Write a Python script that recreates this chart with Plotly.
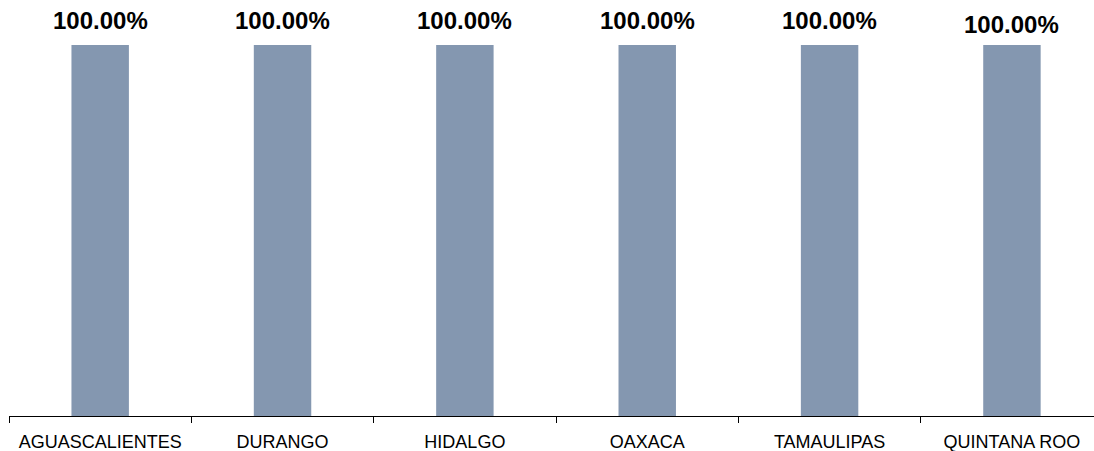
import plotly.graph_objects as go

estados = ["AGUASCALIENTES", "DURANGO", "HIDALGO", "OAXACA", "TAMAULIPAS", "QUINTANA ROO"]
porcentajes = [1.0, 1.0, 1.0, 1.0, 1.0, 1.0]
etiquetas = [f"{v * 100:.2f}%" for v in porcentajes]

BAR_COLOR = "#8497B0"
FONT = "Liberation Sans, Arial, sans-serif"
# the last label sits a little lower in the original
label_shift = [9, 9, 9, 9, 9, 5]

fig = go.Figure()
fig.add_trace(go.Bar(
    x=estados, y=porcentajes,
    marker=dict(color=BAR_COLOR, line=dict(width=0)),
    width=0.315,
    showlegend=False,
    hoverinfo="x+y",
))

# value labels above each bar
annotations = [
    dict(x=e, y=v, xref="x", yref="y", text=f"<b>{t}</b>",
         showarrow=False, yanchor="bottom", yshift=s,
         font=dict(family=FONT, size=24, color="#000"))
    for e, v, t, s in zip(estados, porcentajes, etiquetas, label_shift)
]

# last category is cut off a little by the right edge, as in the original
fig.update_xaxes(
    type="category",
    range=[-0.5, 5.45],
    automargin=False,
    showline=True, linecolor="#000", linewidth=1,
    ticks="outside", tickson="boundaries", ticklen=6, tickcolor="#000",
    tickfont=dict(family=FONT, size=18, color="#000"),
    ticklabelstandoff=9,
    showgrid=False, zeroline=False,
)
fig.update_yaxes(range=[0, 1], visible=False, showgrid=False, automargin=False)

fig.update_layout(
    width=1094, height=451,
    plot_bgcolor="white", paper_bgcolor="white",
    font=dict(family=FONT, color="#000"),
    margin=dict(l=9, r=0, t=45, b=35),
    annotations=annotations,
)

# drop the default 8px body margin so the figure sits at the page corner
fig.write_html("out.html", config={"displayModeBar": False},
               post_script="document.body.style.margin='0';")
